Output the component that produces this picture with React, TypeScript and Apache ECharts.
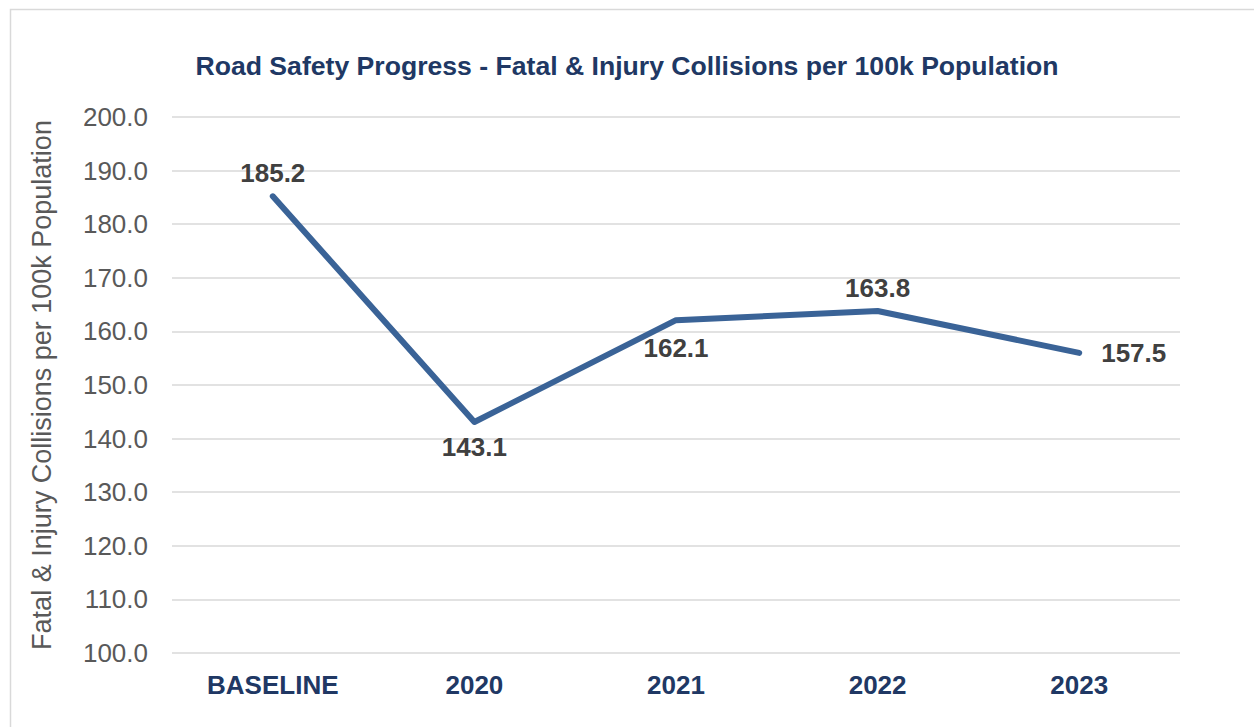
import React, { useEffect, useRef } from "react";
import * as echarts from "echarts";

const categories = ["BASELINE", "2020", "2021", "2022", "2023"];
const values = [185.2, 143.1, 162.1, 163.8, 156.0];
const labelTexts = ["185.2", "143.1", "162.1", "163.8", "157.5"];
const labelPositions = ["top", "bottom", "bottom", "top", "right"];
const labelDistances = [10, 12, 15, 10, 22];
const yMin = 100;
const yMax = 200;
const yInterval = 10;

const FONT = "'Liberation Sans', Arial, sans-serif";

export default function App() {
  const ref = useRef<HTMLDivElement>(null);
  useEffect(() => {
    if (!ref.current) return;
    const chart = echarts.init(ref.current, undefined, { renderer: "svg" });
    chart.setOption({
      animation: false,
      backgroundColor: "#ffffff",
      graphic: [
        {
          type: "rect",
          shape: { x: 10.5, y: 9.5, width: 1400, height: 900 },
          style: { fill: "none", stroke: "#d9d9d9", lineWidth: 1.5 },
          silent: true,
        },
      ],
      title: {
        text: "Road Safety Progress - Fatal & Injury Collisions per 100k Population",
        left: "center",
        top: 47,
        textStyle: {
          fontFamily: FONT,
          fontSize: 26.6,
          fontWeight: "bold",
          color: "#203864",
        },
      },
      grid: { left: 172, right: 74, top: 117, bottom: 74 },
      xAxis: {
        type: "category",
        data: categories,
        boundaryGap: true,
        axisLine: { show: false },
        axisTick: { show: false },
        axisLabel: {
          fontFamily: FONT,
          fontSize: 26,
          fontWeight: "bold",
          color: "#203864",
          margin: 19,
        },
      },
      yAxis: {
        type: "value",
        min: yMin,
        max: yMax,
        interval: yInterval,
        name: "Fatal & Injury Collisions per 100k Population",
        nameLocation: "middle",
        nameGap: 117,
        nameTextStyle: {
          fontFamily: FONT,
          fontSize: 27,
          color: "#595959",
        },
        axisLine: { show: false },
        axisTick: { show: false },
        axisLabel: {
          fontFamily: FONT,
          fontSize: 26,
          color: "#595959",
          margin: 24,
          formatter: (v: number) => v.toFixed(1),
        },
        splitLine: { lineStyle: { color: "#d9d9d9", width: 1.5 } },
      },
      series: [
        {
          type: "line",
          data: values.map((v, i) => ({
            value: v,
            label: {
              position: labelPositions[i],
              distance: labelDistances[i],
              formatter: () => labelTexts[i],
            },
          })),
          symbol: "circle",
          symbolSize: 0,
          showSymbol: true,
          itemStyle: { color: "#3A6397" },
          lineStyle: { color: "#3A6397", width: 6, cap: "round", join: "round" },
          label: {
            show: true,
            fontFamily: FONT,
            fontSize: 26,
            fontWeight: "bold",
            color: "#404040",
          },
        },
      ],
    });
    return () => chart.dispose();
  }, []);
  return (
    <div
      ref={ref}
      style={{ position: "fixed", left: 0, top: 0, width: 1254, height: 727 }}
    />
  );
}
